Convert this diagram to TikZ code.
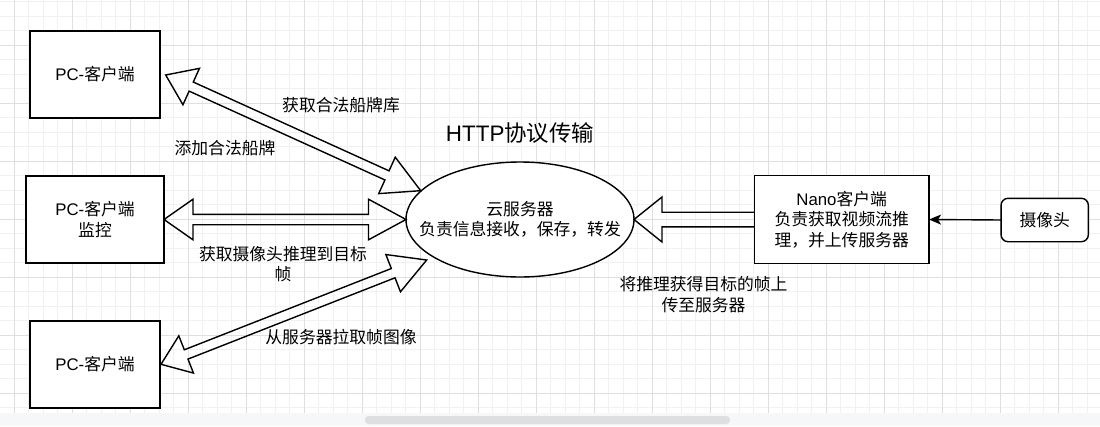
\documentclass[tikz,border=0pt]{standalone}
\usepackage{fontspec}
\setmainfont{Liberation Sans}
\newfontfamily\cjk{Noto Sans CJK SC}
\newcommand\zh[1]{{\cjk #1}}
\usetikzlibrary{calc,arrows.meta,shapes.geometric}
\definecolor{gmin}{HTML}{F1F1F1}
\definecolor{gmaj}{HTML}{DFDFDF}
\definecolor{barbg}{HTML}{F6F7F9}
\definecolor{thumb}{HTML}{DEDFE1}
\tikzset{
  txt/.style={font=\fontsize{16.8}{20.5}\selectfont, align=center, inner sep=0pt, text=black},
  box/.style={txt, draw=black, line width=1.4pt, fill=white, outer sep=0pt},
  flexline/.style={draw=black, line width=1.4pt, line join=miter},
  conn/.style={draw=black, line width=1.4pt, -{Stealth[length=12pt,width=10pt,inset=3pt]}}
}
% double-headed wide outline arrow: #1 start, #2 end, #3 start head length, #4 end head length, #5 shaft half width, #6 head half width
\newcommand\dblflex[6]{%
  \path[flexline] let \p1=(#1), \p2=(#2), \n1={atan2(\y2-\y1,\x2-\x1)}, \n2={veclen(\x2-\x1,\y2-\y1)} in
   {[shift={(\p1)}, rotate=\n1]
   (0pt,0pt) -- (#3pt,#6pt) -- (#3pt,#5pt) -- (\n2-#4pt,#5pt) -- (\n2-#4pt,#6pt) -- (\n2,0pt)
   -- (\n2-#4pt,-#6pt) -- (\n2-#4pt,-#5pt) -- (#3pt,-#5pt) -- (#3pt,-#6pt) -- cycle};}
% single-headed wide outline arrow pointing to #2: #3 head length, #4 shaft half, #5 head half
\newcommand\oneflex[5]{%
  \path[flexline] let \p1=(#1), \p2=(#2), \n1={atan2(\y2-\y1,\x2-\x1)}, \n2={veclen(\x2-\x1,\y2-\y1)} in
   {[shift={(\p1)}, rotate=\n1]
   (0pt,#4pt) -- (\n2-#3pt,#4pt) -- (\n2-#3pt,#5pt) -- (\n2,0pt)
   -- (\n2-#3pt,-#5pt) -- (\n2-#3pt,-#4pt) -- (0pt,-#4pt)};}
\begin{document}
\begin{tikzpicture}[x=1pt,y=-1pt]
\useasboundingbox (0,0) rectangle (1100,426);
\fill[white] (0,0) rectangle (1100,426);
% grid
\foreach \k in {0,...,75} \draw[gmin, line width=1pt] ({14.3+14.5*\k},0) -- ({14.3+14.5*\k},413);
\foreach \k in {0,...,28} \draw[gmin, line width=1pt] (0,{1.5+14.5*\k}) -- (1100,{1.5+14.5*\k});
\foreach \k in {0,...,18} \draw[gmaj, line width=1pt] ({14.3+58*\k},0) -- ({14.3+58*\k},413);
\foreach \k in {0,...,6} \draw[gmaj, line width=1pt] (0,{45+58*\k}) -- (1100,{45+58*\k});
% scroll bar
\fill[barbg] (0,413) rectangle (1100,426);
\fill[thumb, rounded corners=3.5pt] (365,416) rectangle (730,424);

% nodes
\node[box, minimum width=130pt, minimum height=87pt] (pc1) at (95,74.5) {PC-\zh{客户端}};
\node[box, minimum width=138pt, minimum height=87pt] (pc2) at (95,219.5) {PC-\zh{客户端}\\\zh{监控}};
\node[box, minimum width=130pt, minimum height=87pt] (pc3) at (95,364.5) {PC-\zh{客户端}};
\node[box, ellipse, minimum width=228pt, minimum height=115pt] (srv) at (520,219.5) {};
\node[txt] (srvtext) at (srv.center) {\zh{云服务器}\\\zh{负责信息接收，保存，转发}};
\node[box, minimum width=174.7pt, minimum height=87.6pt] (nano) at (841.7,219.5) {Nano\zh{客户端}\\\zh{负责获取视频流推}\\\zh{理，并上传服务器}};
\node[box, rounded corners=7pt, minimum width=87.3pt, minimum height=43.4pt] (cam) at (1044.7,220) {\zh{摄像头}};

% labels
\node[txt, font=\fontsize{22.4}{26}\selectfont] (title) at (520,133) {HTTP\zh{协议传输}};
\node[txt] (l1) at (341,105) {\zh{获取合法船牌库}};
\node[txt] (l2) at (225,148.3) {\zh{添加合法船牌}};
\node[txt] (l3) at (283,264) {\zh{获取摄像头推理到目标}\\\zh{帧}};
\node[txt] (l4) at (341,336.7) {\zh{从服务器拉取帧图像}};
\node[txt] (l5) at (703.5,294.5) {\zh{将推理获得目标的帧上}\\\zh{传至服务器}};

% arrow end coordinates
\coordinate (aS) at (165.7,75);
\coordinate (aE) at (420.7,190.7);
\coordinate (cS) at (161,364.3);
\coordinate (cE) at (426.7,260);

\dblflex{aS}{aE}{28}{37}{5}{20}
\dblflex{pc2.east}{srv.west}{29}{37.5}{5.2}{20.3}
\dblflex{cS}{cE}{27}{36}{5}{20}
\oneflex{nano.west}{srv.east}{28}{7.3}{22.5}

\draw[conn] (cam.west) -- (nano.east);
\end{tikzpicture}
\end{document}
